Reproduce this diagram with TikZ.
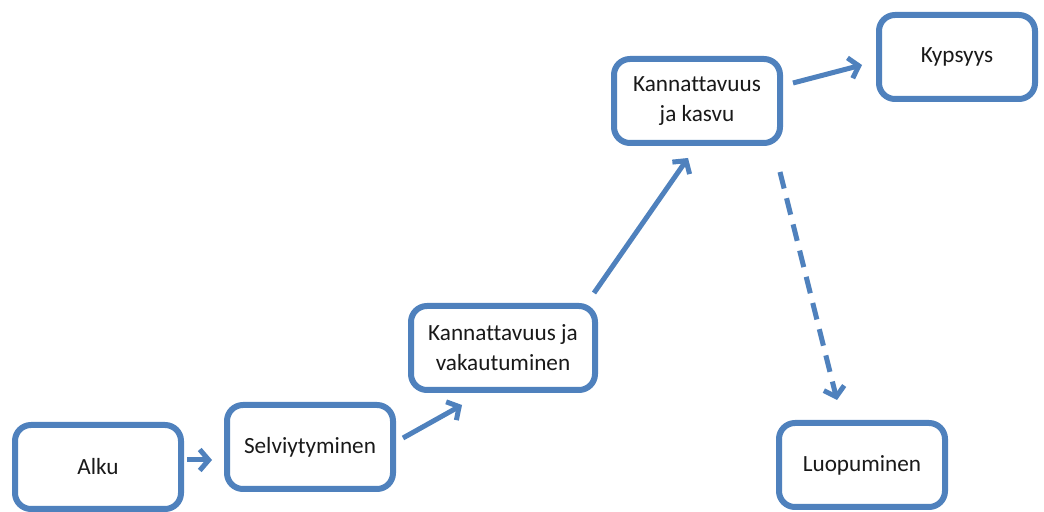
\documentclass[tikz,border=0pt]{standalone}
\usepackage{fontspec}
\setmainfont{Carlito}[Ligatures=NoCommon]
\usepackage{xcolor}
\usepackage{tikz}
\usetikzlibrary{arrows.meta, positioning}

\definecolor{officeblue}{RGB}{79,129,189}

\begin{document}
\begin{tikzpicture}[
    x=0.5pt, y=-0.5pt, % pixel grid of the sketch
    node font=\fontsize{11.6}{15}\selectfont,
    phase/.style={draw=officeblue, line width=3pt, rounded corners=8pt, fill=white,
                  minimum width=83pt, minimum height=42pt, align=center, text=black!90},
    arr/.style={officeblue, line width=2.5pt, -{Straight Barb[length=4.5pt, width=10.5pt]}},
    maybe/.style={arr, dash pattern=on 8.5pt off 5pt}
]
  \useasboundingbox (0,0) rectangle (1044,512);

  % --- PHASES ---
  \node[phase] (alku) at (98,467) {Alku};
  \node[phase] (selv) at (310,447) {Selviytyminen};
  \node[phase, minimum width=92pt] (kvak) at (503,348) {Kannattavuus ja\\vakautuminen};
  \node[phase] (kkasvu) at (697,101) {Kannattavuus\\ja kasvu};
  \node[phase, minimum width=78pt] (kyps) at (957,57) {Kypsyys};
  \node[phase] (luop) at (862,465) {Luopuminen};

  % --- CONNECTIONS ---
  \draw[arr] ([shift={(3,-7)}]alku.east) -- ([shift={(-12,13)}]selv.west);
  \draw[arr] ([shift={(7,-9)}]selv.east) -- ([shift={(-41,12)}]kvak.south);
  \draw[arr] ([shift={(-4,-10)}]kvak.north east) -- ([shift={(-9,12)}]kkasvu.south);
  \draw[arr] ([shift={(10,-18)}]kkasvu.east) -- ([shift={(-14,8)}]kyps.west);

  % Dashed exit path
  \draw[maybe] ([shift={(-3,26)}]kkasvu.south east) -- ([shift={(-25,-20)}]luop.north);

\end{tikzpicture}
\end{document}
